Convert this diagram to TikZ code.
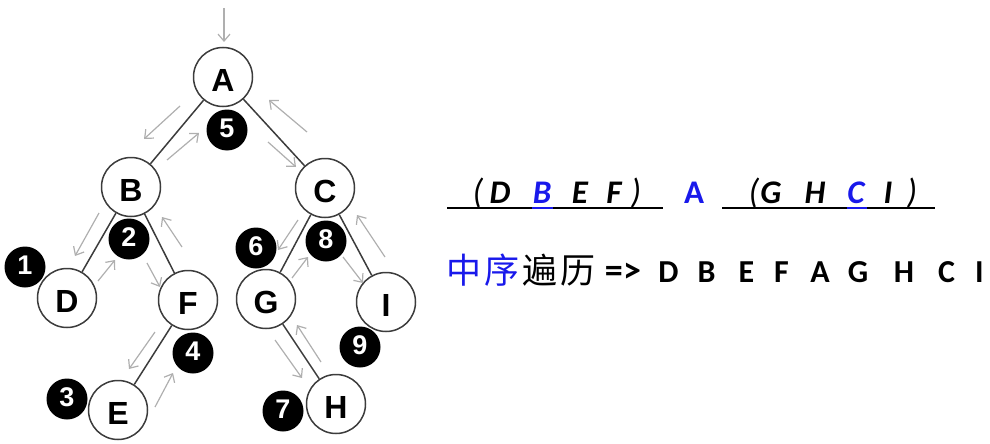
\documentclass[tikz,border=0pt]{standalone}
\usepackage{fontspec}
\setmainfont{Liberation Sans}
\newfontfamily\calfont{Carlito}
\newfontfamily\cjkfont{Noto Sans CJK SC}
\usetikzlibrary{arrows.meta}
\definecolor{myblue}{RGB}{25,25,235}
\definecolor{edgegray}{RGB}{60,60,60}
\definecolor{travgray}{RGB}{175,175,175}
\begin{document}
\begin{tikzpicture}[x=1pt,y=-1pt,
  tnode/.style={circle,draw=edgegray,line width=1.5pt,fill=white,minimum size=59pt,inner sep=0pt,
    font=\fontsize{32}{32}\selectfont\bfseries},
  num/.style={circle,fill=black,minimum size=41pt,inner sep=0pt,text=white,
    font=\fontsize{27}{27}\selectfont\bfseries},
  edge/.style={draw=edgegray,line width=1.5pt},
  trav/.style={draw=travgray,line width=1.2pt,-{Straight Barb[length=7pt,width=12pt]}},
  seq/.style={anchor=base,inner sep=0pt,font=\calfont\fontsize{33}{33}\selectfont\bfseries\itshape},
  par/.style={anchor=base,inner sep=0pt,font=\calfont\fontsize{35}{35}\selectfont\itshape},
  res/.style={anchor=base,inner sep=0pt,font=\calfont\fontsize{32}{32}\selectfont\bfseries},
  uline/.style={line width=1.8pt}]
\useasboundingbox (0,0) rectangle (990,444);
\newcommand{\lowlet}[1]{\raisebox{-3.5pt}[\height][0pt]{#1}}
\newcommand{\highnum}[1]{\raisebox{1.5pt}[\height][0pt]{#1}}
% tree nodes
\node[tnode] (A) at (223,77) {\lowlet{A}};
\node[tnode] (B) at (131,187) {\lowlet{B}};
\node[tnode] (C) at (325,188) {\lowlet{C}};
\node[tnode] (D) at (67,298) {\lowlet{D}};
\node[tnode] (F) at (188,300) {\lowlet{F}};
\node[tnode] (G) at (266,299) {\lowlet{G}};
\node[tnode] (I) at (386,302) {\lowlet{I}};
\node[tnode] (E) at (118,410) {\lowlet{E}};
\node[tnode] (H) at (336,404) {\lowlet{H}};
% edges
\draw[edge] (A) -- (B);
\draw[edge] (A) -- (C);
\draw[edge] (B) -- (D);
\draw[edge] (B) -- (F);
\draw[edge] (F) -- (E);
\draw[edge] (C) -- (G);
\draw[edge] (C) -- (I);
\draw[edge] (G) -- (H);
% visit order numbers
\node[num] (n1) at (25,267) {\highnum{1}};
\node[num] (n2) at (129,239) {\highnum{2}};
\node[num] (n3) at (67,399) {\highnum{3}};
\node[num] (n4) at (193,353) {\highnum{4}};
\node[num] (n5) at (227,130) {\highnum{5}};
\node[num] (n6) at (256,248) {\highnum{6}};
\node[num] (n7) at (283,411) {\highnum{7}};
\node[num] (n8) at (326,241) {\highnum{8}};
\node[num] (n9) at (360,347) {\highnum{9}};
% traversal arrows
\foreach \n/\sx/\sy/\ex/\ey in {top/224/8/224/42, ab/180/106/144/139, ba/167/160/199/133,
  ac/268/142/296/167, ca/307/132/269/100, bd/99/213/75/256, db/98/281/115/260,
  bf/147/263/160/287, fb/182/247/162/217, fe/155/332/129/369, ef/155/407/173/373,
  cg/298/220/278/250, gc/292/278/308/257, ci/343/257/363/283, ic/385/257/357/215,
  gh/275/340/302/378, hg/321/362/297/325}{
  \coordinate (\n s) at (\sx,\sy);
  \coordinate (\n e) at (\ex,\ey);
  \draw[trav] (\n s) -- (\n e);
}
% line 1
\node[par] (p1) at (478,203) {(};
\node[seq] (l1d) at (500,203) {D};
\node[seq,text=myblue] (l1b) at (542,203) {B};
\node[seq] (l1e) at (580,203) {E};
\node[seq] (l1f) at (614,203) {F};
\node[par] (p2) at (636,203) {)};
\node[anchor=base,inner sep=0pt,text=myblue,font=\calfont\fontsize{33}{33}\selectfont\bfseries] (l1a) at (694,203) {A};
\node[par] (p3) at (754,203) {(};
\node[seq] (l1g) at (771,203) {G};
\node[seq] (l1h) at (815,203) {H};
\node[seq,text=myblue] (l1c) at (856,203) {C};
\node[seq] (l1i) at (888,203) {I};
\node[par] (p4) at (912,203) {)};
\coordinate (u1a) at (447,208); \coordinate (u1b) at (663,208);
\coordinate (u2a) at (722,208); \coordinate (u2b) at (935,208);
\draw[uline] (u1a) -- (u1b);
\draw[uline] (u2a) -- (u2b);
\coordinate (ub1) at (532,208); \coordinate (ub2) at (553,208);
\coordinate (uc1) at (847,208); \coordinate (uc2) at (867,208);
\draw[uline,myblue] (ub1) -- (ub2);
\draw[uline,myblue] (uc1) -- (uc2);
% line 2
\node[anchor=base west,inner sep=0pt,font=\cjkfont\fontsize{35}{35}\selectfont] (cn) at (446,283)
  {\textcolor{myblue}{中\hspace{3pt}序}\hspace{3pt}遍\hspace{3pt}历};
\node[res,font=\calfont\fontsize{36}{36}\selectfont\bfseries] (arr) at (623,282) {=\hspace{0.5pt}>};
\foreach \nm/\x/\t in {r1/668.5/D, r2/706.5/B, r3/746.5/E, r4/781.5/F, r5/820/A,
  r6/858/G, r7/904/H, r8/946.5/C, r9/979.5/I}{
  \node[res] (\nm) at (\x,282) {\t};
}
\end{tikzpicture}
\end{document}
